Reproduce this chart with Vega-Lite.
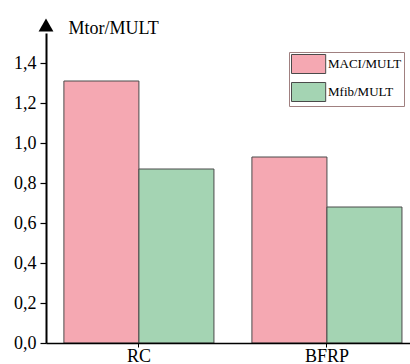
{
  "$schema": "https://vega.github.io/schema/vega-lite/v6.json",
  "width": 364,
  "height": 310,
  "autosize": {"type": "none"},
  "padding": {"left": 46, "top": 33, "right": 0, "bottom": 21},
  "background": "white",
  "config": {
    "view": {"stroke": null},
    "font": "Liberation Serif, DejaVu Serif, serif"
  },
  "layer": [
    {
      "data": {
        "values": [
          {"grp": "RC", "series": "MACI/MULT", "ratio": 1.31},
          {"grp": "RC", "series": "Mfib/MULT", "ratio": 0.87},
          {"grp": "BFRP", "series": "MACI/MULT", "ratio": 0.93},
          {"grp": "BFRP", "series": "Mfib/MULT", "ratio": 0.68}
        ]
      },
      "mark": {"type": "bar", "stroke": "#4a4a4a", "strokeWidth": 1},
      "encoding": {
        "x": {
          "field": "grp",
          "type": "nominal",
          "sort": ["RC", "BFRP"],
          "scale": {"paddingInner": 0.202, "paddingOuter": 0.069, "align": 0.69},
          "axis": {
            "title": null,
            "labelAngle": 0,
            "labelFont": "Liberation Serif, DejaVu Serif, serif",
            "labelFontSize": 18,
            "labelColor": "black",
            "labelPadding": 0,
            "domainColor": "black",
            "domainWidth": 1.5,
            "tickColor": "black",
            "tickSize": 4,
            "zindex": 1
          }
        },
        "xOffset": {
          "field": "series",
          "type": "nominal",
          "scale": {"paddingInner": 0, "paddingOuter": 0}
        },
        "y": {
          "field": "ratio",
          "type": "quantitative",
          "scale": {"domain": [0, 1.55], "nice": false},
          "axis": {
            "title": "Mtor/MULT",
            "titleAngle": 0,
            "titleAlign": "left",
            "titleBaseline": "alphabetic",
            "titleX": 22,
            "titleY": 0,
            "titleFont": "Liberation Serif, DejaVu Serif, serif",
            "titleFontSize": 18,
            "titleFontWeight": "normal",
            "titleColor": "black",
            "values": [0, 0.1, 0.2, 0.3, 0.4, 0.5, 0.6, 0.7, 0.8, 0.9, 1.0, 1.1, 1.2, 1.3, 1.4, 1.5],
            "labelExpr": "round(datum.value*10)%2==0 ? replace(format(datum.value,'.1f'),'.',',') : ''",
            "labelOverlap": false,
            "labelFont": "Liberation Serif, DejaVu Serif, serif",
            "labelFontSize": 18,
            "labelColor": "black",
            "labelPadding": 4,
            "grid": false,
            "domainColor": "black",
            "domainWidth": 2,
            "tickColor": "black",
            "tickWidth": 1.2,
            "tickSize": {"condition": {"test": "round(datum.value*10)%2==1", "value": 3}, "value": 6},
            "zindex": 1
          }
        },
        "color": {
          "field": "series",
          "type": "nominal",
          "scale": {"domain": ["MACI/MULT", "Mfib/MULT"], "range": ["#f5a8b2", "#a4d4b3"]},
          "legend": {
            "title": null,
            "orient": "none",
            "legendX": 243,
            "legendY": 19,
            "symbolType": "M-1,-1H2.6V1H-1Z",
            "symbolSize": 361,
            "symbolStrokeColor": "#4a4a4a",
            "symbolStrokeWidth": 1,
            "symbolOpacity": 1,
            "labelFont": "Liberation Serif, DejaVu Serif, serif",
            "labelFontSize": 13,
            "labelColor": "black",
            "labelOffset": 17,
            "rowPadding": 4,
            "padding": 2,
            "strokeColor": "#a08080"
          }
        }
      }
    },
    {
      "data": {"values": [{"v": 1.59}]},
      "mark": {"type": "point", "shape": "triangle-up", "filled": true, "color": "black", "size": 220, "opacity": 1},
      "encoding": {
        "y": {"field": "v", "type": "quantitative"},
        "x": {"value": 0}
      }
    }
  ]
}
